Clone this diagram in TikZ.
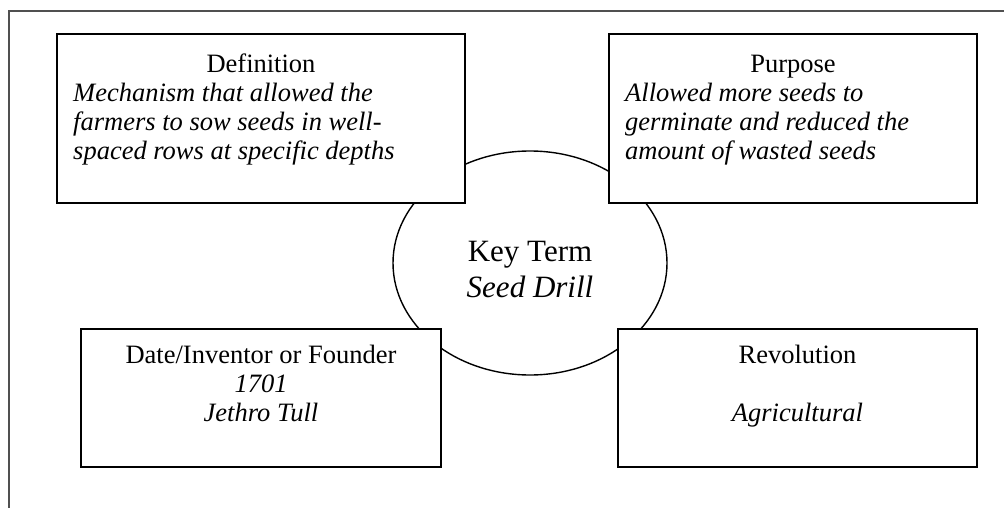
\documentclass[tikz,border=0pt]{standalone}
\usepackage{fontspec}
\setmainfont{Liberation Serif}
\usetikzlibrary{shapes.geometric}
\definecolor{framegray}{HTML}{505050}
\tikzset{
  boxnode/.style={draw=black, line width=1.8pt, fill=white, inner sep=0pt, rectangle},
  keyshape/.style={draw=black, line width=1.4pt, ellipse, inner sep=0pt},
  ttl/.style={font=\fontsize{26.5}{29}\selectfont, anchor=base, inner sep=0pt},
  itl/.style={font=\fontsize{26.5}{29}\selectfont\itshape, anchor=base west, inner sep=0pt},
  itc/.style={font=\fontsize{26.5}{29}\selectfont\itshape, anchor=base, inner sep=0pt},
  bigttl/.style={font=\fontsize{31}{35}\selectfont, anchor=base, inner sep=0pt},
  bigitc/.style={font=\fontsize{31}{35}\selectfont\itshape, anchor=base, inner sep=0pt},
}
\begin{document}
\begin{tikzpicture}[x=1pt,y=-1pt]
\useasboundingbox (0,0) rectangle (1004,508);
% page frame
\coordinate (fbl) at (9,508);
\coordinate (ftl) at (9,11);
\coordinate (ftr) at (1004,11);
\draw[framegray, line width=1.5pt] (fbl) -- (ftl) -- (ftr);
% central ellipse
\node[keyshape, minimum width=274pt, minimum height=224pt] (key) at (530,263) {};
% boxes
\node[boxnode, minimum width=408pt, minimum height=169pt] (defbox) at (261,118.5) {};
\node[boxnode, minimum width=368pt, minimum height=169pt] (purbox) at (793,118.5) {};
\node[boxnode, minimum width=360pt, minimum height=138pt] (datebox) at (261,398) {};
\node[boxnode, minimum width=359pt, minimum height=138pt] (revbox) at (797.5,398) {};
% key term text
\node[bigttl] (keyt) at (530,261) {Key Term};
\node[bigitc] (keyv) at (530,297) {Seed Drill};
% definition
\node[ttl] (deft) at (261,73) {Definition};
\node[itl] (def1) at (73,102) {Mechanism that allowed the};
\node[itl] (def2) at (73,131) {farmers to sow seeds in well-};
\node[itl] (def3) at (73,160) {spaced rows at specific depths};
% purpose
\node[ttl] (purt) at (793,73) {Purpose};
\node[itl] (pur1) at (625,102) {Allowed more seeds to};
\node[itl] (pur2) at (625,131) {germinate and reduced the};
\node[itl] (pur3) at (625,160) {amount of wasted seeds};
% date / inventor
\node[ttl] (datet) at (261,363) {Date/Inventor or Founder};
\node[itc] (date1) at (261,392) {1701};
\node[itc] (date2) at (261,421) {Jethro Tull};
% revolution
\node[ttl] (revt) at (797.5,363) {Revolution};
\node[itc] (rev1) at (797.5,421) {Agricultural};
\end{tikzpicture}
\end{document}
